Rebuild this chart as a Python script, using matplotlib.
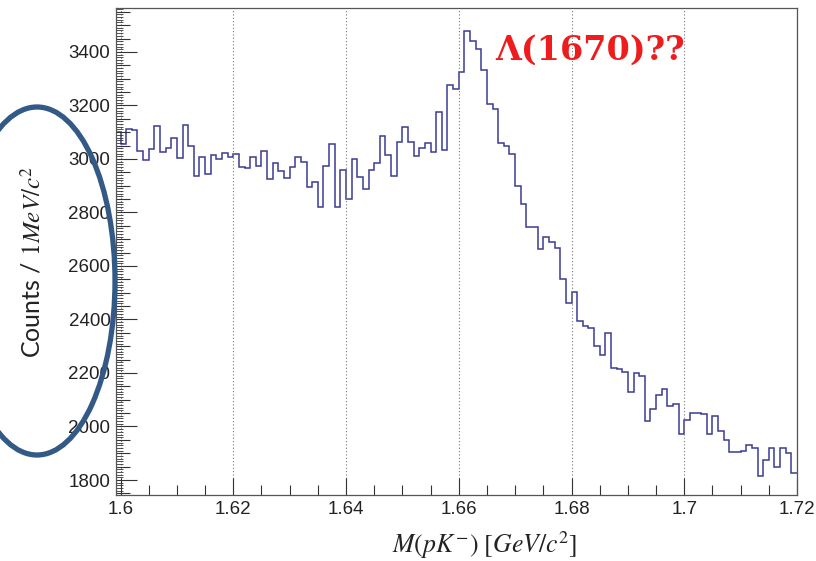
import numpy as np
import matplotlib
matplotlib.use('Agg')
import matplotlib.pyplot as plt
from matplotlib.patches import Ellipse
from matplotlib.ticker import MultipleLocator, FuncFormatter

# histogram: 1 MeV bins starting at 1.599 GeV
bin_lo = 1.599
bin_width = 0.001
counts = [
    3102, 3055, 3111, 3109, 3028, 2996, 3036, 3124, 3024, 3040,
    3080, 3003, 3125, 3050, 2937, 3006, 2945, 3015, 3000, 3021,
    3009, 3019, 2969, 2965, 3006, 2972, 3031, 2925, 2984, 2953,
    2930, 2968, 3007, 2988, 2895, 2913, 2820, 2972, 3057, 2820,
    2959, 2850, 3000, 2932, 2887, 2959, 2983, 3087, 3015, 2937,
    3062, 3118, 3062, 3011, 3040, 3061, 3027, 3175, 3034, 3275,
    3260, 3324, 3479, 3439, 3410, 3333, 3205, 3186, 3059, 3050,
    3019, 2897, 2831, 2745, 2745, 2663, 2710, 2691, 2666, 2552,
    2463, 2504, 2396, 2374, 2367, 2299, 2268, 2349, 2220, 2215,
    2203, 2128, 2199, 2189, 2021, 2065, 2116, 2139, 2078, 2083,
    1972, 2024, 2049, 2052, 2046, 1972, 2041, 1983, 1950, 1906,
    1906, 1910, 1931, 1921, 1815, 1875, 1919, 1848, 1921, 1902,
    1825,
]
edges = bin_lo + bin_width*np.arange(len(counts)+1)

plt.rcParams['mathtext.fontset'] = 'stix'
plt.rcParams['font.family'] = 'Liberation Sans'

fig = plt.figure(figsize=(8.16, 5.61), dpi=100)
fig.subplots_adjust(left=116/816, right=797/816, bottom=66/561, top=553/561)
sub = fig.add_subplot(1, 1, 1)

sub.stairs(counts, edges, baseline=None, color='#3b3b95', linewidth=1.1)

sub.set_xlim(1.5992, 1.72)
sub.set_ylim(1744, 3564)

#########-----ticks (ROOT style)-----#########
sub.xaxis.set_major_locator(MultipleLocator(0.02))
sub.xaxis.set_minor_locator(MultipleLocator(0.005))
sub.xaxis.set_major_formatter(FuncFormatter(lambda v, p: '%g' % round(v, 3)))
sub.yaxis.set_major_locator(MultipleLocator(50))
sub.yaxis.set_minor_locator(MultipleLocator(10))
sub.yaxis.set_major_formatter(FuncFormatter(
    lambda v, p: '%d' % round(v) if abs(v/200 - round(v/200)) < 1e-6 else ''))

sub.tick_params(axis='both', which='both', direction='in', top=False, right=False,
                color='#333333', labelsize=13.5, labelcolor='#222222', pad=4)
sub.tick_params(axis='x', which='major', length=12, width=0.8)
sub.tick_params(axis='x', which='minor', length=7, width=0.8)
sub.tick_params(axis='y', which='major', length=10, width=0.8)
sub.tick_params(axis='y', which='minor', length=5, width=0.6)

sub.grid(axis='x', which='major', linestyle=(0, (1, 2)), color='#777777', linewidth=0.8)

for sp in sub.spines.values():
    sp.set_color('#555555')
    sp.set_linewidth(0.9)

fig.canvas.draw()
for loc, tick in zip(sub.yaxis.get_majorticklocs(), sub.yaxis.get_major_ticks()):
    if abs(loc/200 - round(loc/200)) < 1e-6:
        tick.tick1line.set_markersize(15)

#########-----labels-----#########
fig.text(485/816, 1-545/561, r'$M(pK^{-})\ [GeV/c^{2}]$', fontsize=18.5,
         ha='center', va='center', color='#222222')
fig.text(32/816, 1-262/561, r'Counts / $1MeV/c^{2}$', fontsize=18, family='Lato',
         rotation=90, ha='center', va='center', color='#222222')

fig.text(590/816, 1-50/561, 'Λ(1670)??', fontsize=24, family='DejaVu Serif',
         weight='bold', color='#ee1c1c', ha='center', va='center')

fig.add_artist(Ellipse((37/816, 1-281/561), width=156/816, height=348/561,
                       transform=fig.transFigure, fill=False,
                       edgecolor='#335a86', linewidth=3.8))

fig.savefig('out.png', dpi=100)
